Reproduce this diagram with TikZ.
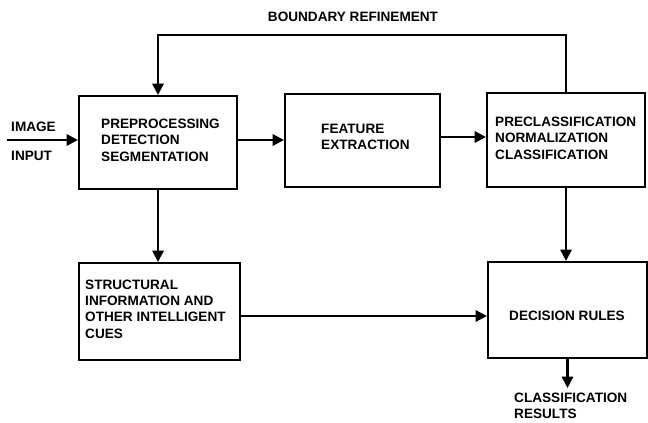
\documentclass[tikz,border=0pt]{standalone}
\usepackage{fontspec}
\setmainfont{Liberation Sans}
\usetikzlibrary{arrows.meta,calc}
\begin{document}
\begin{tikzpicture}[x=0.03cm,y=-0.03cm,
  box/.style={draw,line width=1.8pt,inner sep=0pt},
  lbl/.style={font=\bfseries\fontsize{11.6}{14}\selectfont,inner sep=0pt,align=left},
  arr/.style={line width=1.8pt,-{Triangle[length=3.4mm,width=3.4mm]}},
  ln/.style={line width=1.8pt}]
\useasboundingbox (0,0) rectangle (648,423);
% boxes
\node[box,minimum width=4.74cm,minimum height=2.79cm] (b1) at (158,142.5) {};
\node[box,minimum width=4.65cm,minimum height=2.79cm] (b2) at (362.5,140.5) {};
\node[box,minimum width=4.74cm,minimum height=2.82cm] (b3) at (566,140) {};
\node[box,minimum width=4.83cm,minimum height=2.91cm] (b4) at (159.5,311.5) {};
\node[box,minimum width=4.77cm,minimum height=2.88cm] (b5) at (567.5,310) {};
% labels
\node[lbl] (tref) at (353,17) {BOUNDARY REFINEMENT};
\node[lbl,anchor=west] (timg) at (11,127) {IMAGE};
\node[lbl,anchor=west] (tinp) at (11,156) {INPUT};
\node[lbl,anchor=west] (t1) at (101,140) {PREPROCESSING\\DETECTION\\SEGMENTATION};
\node[lbl,anchor=west] (t2) at (321,137) {FEATURE\\EXTRACTION};
\node[lbl,anchor=west] (t3) at (495,138) {PRECLASSIFICATION\\NORMALIZATION\\CLASSIFICATION};
\node[lbl,anchor=west] (t4) at (85,309) {STRUCTURAL\\INFORMATION AND\\OTHER INTELLIGENT\\CUES};
\node[lbl] (t5) at (567,316) {DECISION RULES};
\node[lbl,anchor=west] (t6) at (514,406) {CLASSIFICATION\\RESULTS};
% coordinates
\coordinate (top) at (0,35);
\coordinate (in) at (7,140);
\coordinate (y12) at (0,140);
\coordinate (y23) at (0,137);
\coordinate (y45) at (0,316);
\coordinate (out) at (567.5,388);
% connectors
\draw[arr] (b3.north) -- (b3.north |- top) -- (b1.north |- top) -- (b1.north);
\draw[arr] (in) -- (in -| b1.west);
\draw[arr] (b1.east |- y12) -- (b2.west |- y12);
\draw[arr] (b2.east |- y23) -- (b3.west |- y23);
\draw[arr] (b1.south) -- (b1.south |- b4.north);
\draw[arr] (b3.south) -- (b3.south |- b5.north);
\draw[arr] (b4.east |- y45) -- (b5.west |- y45);
\draw[arr] (b5.south) -- (out);
\end{tikzpicture}
\end{document}
